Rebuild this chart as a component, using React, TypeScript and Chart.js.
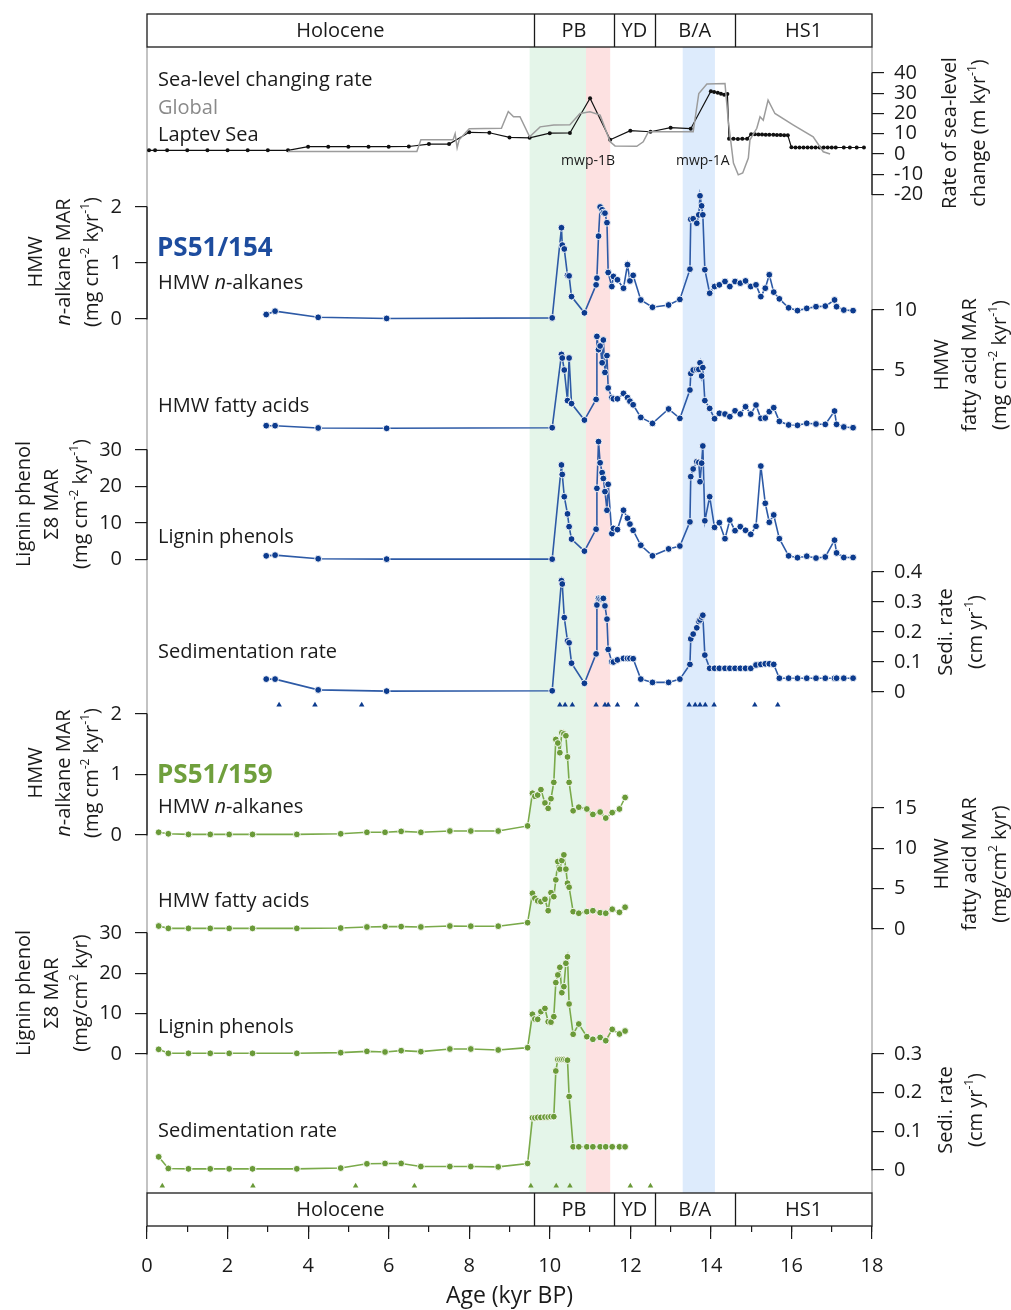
import React, { useEffect, useRef } from "react";
import { Chart, registerables } from "chart.js";

Chart.register(...registerables);

const FONT = '"Open Sans", "DejaVu Sans", Arial, sans-serif';
const INK = "#1a1a1a";

// ================= DATA =================
const epochNames = ["Holocene", "PB", "YD", "B/A", "HS1"];
const epochBounds = [0, 9.6, 11.6, 12.6, 14.6, 18];
const shadeStart = [9.5, 10.9, 13.3];
const shadeEnd = [10.9, 11.5, 14.1];
const xMajorTicks = [0, 2, 4, 6, 8, 10, 12, 14, 16, 18];
const xMinorTicks = [0, 1, 2, 3, 4, 5, 6, 7, 8, 9, 10, 11, 12, 13, 14, 15, 16, 17, 18];
const mwpNames = ["mwp-1B", "mwp-1A"];
const mwpAges = [10.95, 13.8];

// Sea-level changing rate (m/kyr)
const ageLaptev = [0.05, 0.2, 0.5, 1, 1.5, 2, 2.5, 3, 3.5, 4, 4.5, 5, 5.5, 6, 6.5, 7, 7.5, 8, 8.5, 9, 9.5, 10, 10.5, 11, 11.5, 12, 12.5, 13, 13.5,
  14.0, 14.08, 14.17, 14.25, 14.33, 14.41, 14.45, 14.56, 14.67, 14.78, 14.9,
  15.0, 15.09, 15.18, 15.27, 15.36, 15.45, 15.55, 15.64, 15.73, 15.82, 15.91,
  16.0, 16.1, 16.2, 16.3, 16.4, 16.5, 16.6, 16.7, 16.8, 16.9, 17.0, 17.1, 17.3, 17.45, 17.62, 17.8];
const rateLaptev = [1.8, 1.8, 1.8, 1.8, 1.8, 1.8, 1.8, 1.8, 1.8, 3.6, 3.6, 3.6, 3.6, 3.6, 3.7, 4.9, 4.9, 10.7, 10.5, 8.2, 8.0, 10.3, 10.4,
  27.5, 7.0, 11.5, 11.0, 13.0, 12.5,
  31.0, 30.6, 30.2, 29.8, 29.2, 29.6, 7.5, 7.5, 7.4, 7.5, 7.5,
  9.8, 9.7, 9.6, 9.6, 9.5, 9.5, 9.5, 9.4, 9.4, 9.3, 9.2,
  3.3, 3.2, 3.2, 3.2, 3.2, 3.2, 3.2, 3.2, 3.2, 3.2, 3.2, 3.2, 3.2, 3.2, 3.2, 3.2];
const ageGlobal = [3.5, 6.7, 6.8, 7.6, 7.65, 7.7, 7.75, 8.0, 8.8, 8.97, 9.1, 9.26, 9.5, 9.76, 10.1, 10.5, 10.75, 11.0, 11.25, 11.5,
  11.62, 12.16, 12.32, 12.45, 13.56, 13.7, 13.9, 14.35, 14.43, 14.56, 14.68, 14.79, 14.93, 14.97, 15.14, 15.22, 15.3, 15.42, 15.59, 16.05,
  16.54, 16.79, 16.96];
const rateGlobal = [1.2, 1.2, 7, 7, 10, 3, 7, 12.5, 12.7, 21, 18.4, 18.4, 8.5, 13.4, 14.3, 14.5, 20, 20.8, 19.2, 6,
  4, 3.8, 6, 11, 11, 29.9, 34.6, 34.8, 16.7, -4.5, -10.3, -9.4, -2, 7, 12.7, 18.4, 16.7, 26.6, 20, 14.3,
  8.5, 1.1, 0];

// PS51/154
const age154 = [2.96, 3.18, 4.25, 5.95, 10.06,
  10.29, 10.31, 10.36, 10.44, 10.48, 10.54, 10.86,
  11.15, 11.17, 11.21, 11.25, 11.30, 11.33, 11.37, 11.42, 11.45, 11.54, 11.58, 11.68, 11.83, 11.93, 11.99, 12.07,
  12.26, 12.55, 12.95, 13.23,
  13.48, 13.50, 13.56, 13.65, 13.70, 13.73, 13.77, 13.80, 13.85,
  13.97, 14.09, 14.21, 14.35, 14.47, 14.60, 14.73, 14.86, 14.99,
  15.12, 15.24, 15.35, 15.45, 15.56, 15.70,
  15.93, 16.15, 16.38, 16.61, 16.84,
  17.07, 17.12, 17.30, 17.53];
const alk154 = [0.08, 0.14, 0.03, 0.01, 0.02,
  1.63, 1.32, 1.25, 0.78, 0.77, 0.40, 0.11,
  0.61, 0.73, 1.48, 2.00, 1.95, 1.90, 1.89, 1.72, 0.83, 0.58, 0.76, 0.70, 0.55, 0.97, 0.68, 0.78,
  0.34, 0.21, 0.25, 0.35,
  0.89, 1.78, 1.79, 1.71, 1.86, 2.20, 2.02, 1.86, 0.88,
  0.46, 0.58, 0.61, 0.67, 0.58, 0.67, 0.64, 0.68, 0.58,
  0.61, 0.40, 0.55, 0.79, 0.48, 0.36,
  0.20, 0.15, 0.19, 0.22, 0.23,
  0.34, 0.22, 0.16, 0.15];
const fa154 = [0.36, 0.36, 0.17, 0.14, 0.19,
  6.3, 6.0, 5.0, 2.45, 6.0, 2.2, 0.83,
  2.55, 7.8, 6.7, 7.0, 5.6, 7.5, 4.8, 6.2, 3.5, 2.7, 2.6, 2.6, 3.05, 2.7, 2.4, 2.1,
  1.05, 0.55, 1.75, 0.97,
  3.33, 4.7, 5.0, 5.05, 5.05, 5.6, 4.5, 5.2, 2.45,
  1.8, 0.94, 1.39, 1.33, 1.11, 1.6, 1.33, 1.94, 1.33,
  2.08, 0.97, 1.0, 1.53, 1.86, 0.72,
  0.42, 0.39, 0.56, 0.5, 0.47,
  1.58, 0.47, 0.25, 0.19];
const lig154 = [1.0, 1.2, 0.2, 0.1, 0.1,
  25.9, 23.3, 17.2, 12.5, 9.0, 5.6, 2.3,
  8.3, 19.5, 32.3, 26.5, 23.8, 22.2, 18.6, 13.5, 20.6, 7.1, 8.5, 8.2, 13.5, 11.3, 9.7, 8.0,
  3.9, 1.0, 2.9, 3.7,
  10.3, 22.7, 24.8, 26.8, 26.6, 21.3, 26.4, 31.1, 10.6,
  17.2, 8.8, 10.1, 5.7, 10.8, 7.9, 9.0, 8.0, 6.9,
  9.1, 25.6, 15.4, 10.2, 12.2, 5.7,
  1.0, 0.5, 0.9, 0.4, 0.7,
  5.3, 1.8, 0.55, 0.55];
const sed154 = [0.043, 0.043, 0.007, 0.003, 0.004,
  0.371, 0.36, 0.248, 0.17, 0.164, 0.096, 0.029,
  0.127, 0.29, 0.312, 0.31, 0.31, 0.312, 0.287, 0.243, 0.142, 0.101, 0.1, 0.107, 0.112, 0.112, 0.112, 0.111,
  0.043, 0.032, 0.032, 0.043,
  0.092, 0.177, 0.193, 0.214, 0.235, 0.24, 0.25, 0.256, 0.123,
  0.079, 0.079, 0.079, 0.079, 0.079, 0.079, 0.079, 0.079, 0.079,
  0.09, 0.092, 0.094, 0.094, 0.092, 0.046,
  0.046, 0.046, 0.046, 0.046, 0.046,
  0.046, 0.046, 0.046, 0.046];
const ctrl154 = [3.28, 4.17, 5.33, 10.25, 10.38, 10.56, 11.15, 11.37, 11.45, 11.68, 12.16, 13.46, 13.61, 13.73, 13.86, 14.08, 15.09, 15.66];

// PS51/159
const age159 = [0.29, 0.53, 1.03, 1.57, 2.04, 2.62, 3.72, 4.81, 5.46, 5.91, 6.31, 6.8, 7.52, 8.04, 8.72,
  9.45,
  9.57, 9.63, 9.7, 9.78, 9.88, 9.96, 10.03, 10.1,
  10.15, 10.2, 10.25, 10.3, 10.35, 10.4, 10.44, 10.48,
  10.58, 10.72, 10.92, 11.07, 11.25, 11.39, 11.55, 11.73, 11.87];
const alk159 = [0.045, 0.02, 0.01, 0.01, 0.01, 0.01, 0.01, 0.02, 0.045, 0.045, 0.06, 0.045, 0.066, 0.066, 0.066,
  0.15,
  0.69, 0.64, 0.66, 0.75, 0.53, 0.44, 0.60, 0.87,
  1.58, 1.52, 1.36, 1.69, 1.67, 1.64, 1.29, 0.87,
  0.40, 0.46, 0.43, 0.34, 0.38, 0.28, 0.37, 0.43, 0.62];
const fa159 = [0.37, 0.08, 0.08, 0.08, 0.08, 0.08, 0.08, 0.12, 0.25, 0.3, 0.3, 0.25, 0.37, 0.35, 0.35,
  0.79,
  4.43, 3.81, 3.48, 3.39, 3.69, 2.27, 4.51, 4.01,
  6.09, 8.36, 7.42, 8.49, 9.19, 7.42, 5.68, 5.18,
  2.15, 1.95, 2.15, 2.27, 2.02, 1.95, 2.45, 2.07, 2.7];
const lig159 = [1.16, 0.17, 0.17, 0.17, 0.17, 0.17, 0.17, 0.33, 0.66, 0.5, 0.83, 0.58, 1.24, 1.24, 1.0,
  1.57,
  9.85, 8.68, 8.6, 10.5, 11.3, 8.0, 7.9, 9.26,
  17.7, 19.6, 21.5, 15.2, 16.7, 22.5, 24.1, 12.4,
  4.9, 7.44, 4.3, 3.65, 4.1, 3.3, 6.1, 4.96, 5.7];
const sed159 = [0.034, 0.004, 0.003, 0.003, 0.003, 0.003, 0.003, 0.005, 0.016, 0.017, 0.017, 0.009, 0.009, 0.009, 0.008,
  0.017,
  0.135, 0.135, 0.136, 0.136, 0.137, 0.137, 0.138, 0.138,
  0.256, 0.286, 0.286, 0.286, 0.286, 0.285, 0.284, 0.19,
  0.06, 0.06, 0.06, 0.06, 0.06, 0.06, 0.06, 0.06, 0.06];
const ctrl159 = [0.38, 2.63, 5.18, 6.64, 9.53, 10.16, 10.5, 12.0, 12.5];

// axis ticks
const ticksSea = [-20, -10, 0, 10, 20, 30, 40];
const ticksAlk = [0, 1, 2];
const ticksFA154 = [0, 5, 10];
const ticksLig = [0, 10, 20, 30];
const ticksSed154 = [0, 0.1, 0.2, 0.3, 0.4];
const ticksFA159 = [0, 5, 10, 15];
const ticksSed159 = [0, 0.1, 0.2, 0.3];

// ================= LAYOUT / STYLE =================
const CANVAS_W = 1011;
const CANVAS_H = 1310;
const AREA = { left: 147, right: 872, top: 14, bottom: 1226 };
const BOX_H = 33;
const CTRL_Y154 = -0.043; // age-control marker row below sedimentation-rate panels
const CTRL_Y159 = -0.041;
const shadeColors = ["#e4f5e9", "#fde1e1", "#ddebfc"];
const BLUE_LINE = "#2d5aa6";
const BLUE_PT = "#0c3b8e";
const BLUE_TXT = "#1d4c9e";
const GREEN_LINE = "#7aaa4a";
const GREEN_PT = "#6a9a38";
const GREEN_TXT = "#6f9f3c";

type Seg = { t: string; it?: boolean; sup?: boolean };
const s = (t: string): Seg => ({ t });
const it = (t: string): Seg => ({ t, it: true });
const sp = (t: string): Seg => ({ t, sup: true });
const unitsCm = [s("(mg cm"), sp("-2"), s(" kyr"), sp("-1"), s(")")];
const unitsSlash = [s("(mg/cm"), sp("2"), s(" kyr)")];

type Panel = { id: string; side: "left" | "right"; ticks: number[]; firstY: number; lastY: number; titleX: number[]; titleY: number; title: Seg[][] };
const panels: Panel[] = [
  { id: "ySea", side: "right", ticks: ticksSea, firstY: 194.5, lastY: 73, titleX: [950, 979], titleY: 133, title: [[s("Rate of sea-level")], [s("change (m kyr"), sp("-1"), s(")")]] },
  { id: "yAlk154", side: "left", ticks: ticksAlk, firstY: 319, lastY: 207, titleX: [36, 64, 92], titleY: 262, title: [[s("HMW")], [it("n"), s("-alkane MAR")], unitsCm] },
  { id: "yFA154", side: "right", ticks: ticksFA154, firstY: 430, lastY: 310, titleX: [942, 970, 1000], titleY: 365, title: [[s("HMW")], [s("fatty acid MAR")], unitsCm] },
  { id: "yLig154", side: "left", ticks: ticksLig, firstY: 559.5, lastY: 450, titleX: [24, 52, 81], titleY: 504, title: [[s("Lignin phenol")], [s("Σ8 MAR")], unitsCm] },
  { id: "ySed154", side: "right", ticks: ticksSed154, firstY: 692, lastY: 572, titleX: [946, 976], titleY: 632, title: [[s("Sedi. rate")], [s("(cm yr"), sp("-1"), s(")")]] },
  { id: "yAlk159", side: "left", ticks: ticksAlk, firstY: 835, lastY: 714, titleX: [36, 64, 92], titleY: 773, title: [[s("HMW")], [it("n"), s("-alkane MAR")], unitsCm] },
  { id: "yFA159", side: "right", ticks: ticksFA159, firstY: 929, lastY: 808, titleX: [942, 970, 1000], titleY: 864, title: [[s("HMW")], [s("fatty acid MAR")], unitsSlash] },
  { id: "yLig159", side: "left", ticks: ticksLig, firstY: 1054, lastY: 933, titleX: [24, 52, 81], titleY: 993, title: [[s("Lignin phenol")], [s("Σ8 MAR")], unitsSlash] },
  { id: "ySed159", side: "right", ticks: ticksSed159, firstY: 1170, lastY: 1054, titleX: [946, 976], titleY: 1110, title: [[s("Sedi. rate")], [s("(cm yr"), sp("-1"), s(")")]] },
];

type TextLabel = { segs: Seg[]; x: number; y: number; color: string; size: number; bold?: boolean };
const textLabels: TextLabel[] = [
  { segs: [s("Sea-level changing rate")], x: 158, y: 86, color: INK, size: 20 },
  { segs: [s("Global")], x: 158, y: 114, color: "#8a8a8a", size: 20 },
  { segs: [s("Laptev Sea")], x: 158, y: 141, color: INK, size: 20 },
  { segs: [s("PS51/154")], x: 157, y: 256, color: BLUE_TXT, size: 26, bold: true },
  { segs: [s("HMW "), it("n"), s("-alkanes")], x: 158, y: 289, color: INK, size: 20 },
  { segs: [s("HMW fatty acids")], x: 158, y: 412, color: INK, size: 20 },
  { segs: [s("Lignin phenols")], x: 158, y: 543, color: INK, size: 20 },
  { segs: [s("Sedimentation rate")], x: 158, y: 658, color: INK, size: 20 },
  { segs: [s("PS51/159")], x: 157, y: 783, color: GREEN_TXT, size: 26, bold: true },
  { segs: [s("HMW "), it("n"), s("-alkanes")], x: 158, y: 813, color: INK, size: 20 },
  { segs: [s("HMW fatty acids")], x: 158, y: 907, color: INK, size: 20 },
  { segs: [s("Lignin phenols")], x: 158, y: 1033, color: INK, size: 20 },
  { segs: [s("Sedimentation rate")], x: 158, y: 1137, color: INK, size: 20 },
];

// ================= HELPERS =================
function fontFor(seg: Seg, size: number, bold: boolean) {
  const sz = seg.sup ? Math.round(size * 0.62) : size;
  return `${seg.it ? "italic " : ""}${bold ? "bold " : ""}${sz}px ${FONT}`;
}

function drawRich(ctx: CanvasRenderingContext2D, segs: Seg[], x: number, y: number, size: number, color: string,
  opts: { align?: "left" | "center"; rotate?: boolean; bold?: boolean; baseline?: CanvasTextBaseline }) {
  ctx.save();
  ctx.translate(x, y);
  if (opts.rotate) ctx.rotate(-Math.PI / 2);
  ctx.fillStyle = color;
  const baseline = opts.baseline ?? "alphabetic";
  ctx.textBaseline = baseline;
  ctx.textAlign = "left";
  let total = 0;
  const widths = segs.map((sg) => {
    ctx.font = fontFor(sg, size, !!opts.bold);
    const w = ctx.measureText(sg.t).width;
    total += w;
    return w;
  });
  let cx = opts.align === "center" ? -total / 2 : 0;
  const raise = baseline === "middle" ? -size * 0.3 : -size * 0.4;
  segs.forEach((sg, i) => {
    ctx.font = fontFor(sg, size, !!opts.bold);
    ctx.fillText(sg.t, cx, sg.sup ? raise : 0);
    cx += widths[i];
  });
  ctx.restore();
}

function axisRange(p: Panel) {
  const t0 = p.ticks[0];
  const t1 = p.ticks[p.ticks.length - 1];
  const k = (p.firstY - p.lastY) / (t1 - t0);
  return { min: t0 + (p.firstY - AREA.bottom) / k, max: t0 + (p.firstY - AREA.top) / k };
}

const zip = (xs: number[], ys: number[]) => xs.map((x, i) => ({ x, y: ys[i] }));

function series(xs: number[], ys: number[], yAxisID: string, line: string, pt: string) {
  return {
    data: zip(xs, ys),
    yAxisID,
    xAxisID: "x",
    borderColor: line,
    borderWidth: 1.6,
    pointRadius: 3.4,
    pointBackgroundColor: pt,
    pointBorderColor: "#ffffff",
    pointBorderWidth: 0.9,
    tension: 0,
  };
}

function markers(ages: number[], level: number, yAxisID: string, color: string) {
  return {
    data: ages.map((a) => ({ x: a, y: level })),
    yAxisID,
    xAxisID: "x",
    showLine: false,
    pointStyle: "triangle",
    pointRadius: 3.2,
    pointBackgroundColor: color,
    pointBorderColor: color,
    pointBorderWidth: 0,
  };
}

const decorPlugin = {
  id: "decor",
  afterLayout(chart: any) {
    // widen the label area of the zero-width y axes so their tick labels are not clipped
    panels.forEach((p) => {
      const sc = chart.scales[p.id];
      if (!sc) return;
      if (p.side === "left") {
        sc.left = 0;
      } else {
        sc.right = CANVAS_W;
      }
    });
  },
  beforeDraw(chart: any) {
    const { ctx, chartArea: a, scales } = chart;
    const xs = scales.x;
    ctx.save();
    for (let i = 0; i < shadeStart.length; i++) {
      const x0 = xs.getPixelForValue(shadeStart[i]);
      const x1 = xs.getPixelForValue(shadeEnd[i]);
      ctx.fillStyle = shadeColors[i];
      ctx.fillRect(x0, a.top + BOX_H, x1 - x0, a.bottom - a.top - 2 * BOX_H);
    }
    ctx.strokeStyle = "#b0b0b0";
    ctx.lineWidth = 1.5;
    ctx.beginPath();
    ctx.moveTo(a.left, a.top + BOX_H);
    ctx.lineTo(a.left, a.bottom - BOX_H);
    ctx.moveTo(a.right, a.top + BOX_H);
    ctx.lineTo(a.right, a.bottom - BOX_H);
    ctx.stroke();
    ctx.restore();
  },
  afterDraw(chart: any) {
    const { ctx, chartArea: a, scales } = chart;
    const xs = scales.x;
    ctx.save();
    // epoch boxes
    const drawBox = (yTop: number) => {
      ctx.fillStyle = "#ffffff";
      ctx.fillRect(a.left, yTop, a.right - a.left, BOX_H);
      ctx.strokeStyle = INK;
      ctx.lineWidth = 1.3;
      ctx.strokeRect(a.left, yTop, a.right - a.left, BOX_H);
      ctx.beginPath();
      for (let i = 1; i < epochBounds.length - 1; i++) {
        const px = Math.round(xs.getPixelForValue(epochBounds[i])) + 0.5;
        ctx.moveTo(px, yTop);
        ctx.lineTo(px, yTop + BOX_H);
      }
      ctx.stroke();
      ctx.font = `20px ${FONT}`;
      ctx.fillStyle = INK;
      ctx.textAlign = "center";
      ctx.textBaseline = "middle";
      for (let i = 0; i < epochNames.length; i++) {
        const cx = (xs.getPixelForValue(epochBounds[i]) + xs.getPixelForValue(epochBounds[i + 1])) / 2;
        ctx.fillText(epochNames[i], cx, yTop + BOX_H / 2 + 1);
      }
    };
    drawBox(a.top);
    drawBox(a.bottom - BOX_H);

    // axis lines + titles
    panels.forEach((p) => {
      const sc = scales[p.id];
      const px = p.side === "left" ? a.left : a.right;
      const y0 = sc.getPixelForValue(p.ticks[0]);
      const y1 = sc.getPixelForValue(p.ticks[p.ticks.length - 1]);
      ctx.strokeStyle = INK;
      ctx.lineWidth = 1.3;
      ctx.beginPath();
      ctx.moveTo(px, y0 + 0.5);
      ctx.lineTo(px, y1 - 0.5);
      ctx.stroke();
      p.title.forEach((line, i) =>
        drawRich(ctx, line, p.titleX[i], p.titleY, 20, INK, { align: "center", rotate: true, baseline: "middle" })
      );
    });

    // in-plot labels
    textLabels.forEach((l) => drawRich(ctx, l.segs, l.x, l.y, l.size, l.color, { bold: l.bold }));
    mwpNames.forEach((n, i) =>
      drawRich(ctx, [s(n)], xs.getPixelForValue(mwpAges[i]), 165, 14, INK, { align: "center" })
    );
    ctx.restore();
  },
};

export default function App() {
  const ref = useRef<HTMLCanvasElement>(null);
  useEffect(() => {
    if (!ref.current) return;
    const yScales: Record<string, any> = {};
    panels.forEach((p) => {
      const r = axisRange(p);
      yScales[p.id] = {
        type: "linear",
        position: p.side,
        min: r.min,
        max: r.max,
        bounds: "data",
        afterFit: (sc: any) => {
          sc.width = 0;
          sc.paddingTop = 0;
          sc.paddingBottom = 0;
        },
        afterBuildTicks: (sc: any) => {
          sc.ticks = p.ticks.map((v) => ({ value: v }));
        },
        ticks: {
          autoSkip: false,
          padding: p.side === "left" ? 13 : 10,
          color: INK,
          font: { family: FONT, size: 20 },
          callback: (v: any) => String(v),
        },
        grid: { drawOnChartArea: false, drawTicks: true, tickLength: 12, color: INK, lineWidth: 1.2 },
        border: { display: false },
      };
    });

    const chart = new Chart(ref.current, {
      type: "line",
      data: {
        datasets: [
          { data: zip(ageGlobal, rateGlobal), yAxisID: "ySea", xAxisID: "x", borderColor: "#9c9c9c", borderWidth: 1.5, pointRadius: 0, tension: 0 },
          { data: zip(ageLaptev, rateLaptev), yAxisID: "ySea", xAxisID: "x", borderColor: "#111111", borderWidth: 1.2, pointRadius: 2, pointBackgroundColor: "#111111", pointBorderWidth: 0, tension: 0 },
          series(age154, alk154, "yAlk154", BLUE_LINE, BLUE_PT),
          series(age154, fa154, "yFA154", BLUE_LINE, BLUE_PT),
          series(age154, lig154, "yLig154", BLUE_LINE, BLUE_PT),
          series(age154, sed154, "ySed154", BLUE_LINE, BLUE_PT),
          series(age159, alk159, "yAlk159", GREEN_LINE, GREEN_PT),
          series(age159, fa159, "yFA159", GREEN_LINE, GREEN_PT),
          series(age159, lig159, "yLig159", GREEN_LINE, GREEN_PT),
          series(age159, sed159, "ySed159", GREEN_LINE, GREEN_PT),
          markers(ctrl154, CTRL_Y154, "ySed154", BLUE_PT),
          markers(ctrl159, CTRL_Y159, "ySed159", GREEN_PT),
        ] as any,
      },
      options: {
        animation: false,
        responsive: false,
        maintainAspectRatio: false,
        events: [],
        layout: { padding: { left: AREA.left, right: CANVAS_W - AREA.right, top: AREA.top, bottom: 0 } },
        plugins: { legend: { display: false }, tooltip: { enabled: false } },
        scales: {
          x: {
            type: "linear",
            position: "bottom",
            min: 0,
            max: 18,
            weight: 0,
            afterFit: (sc: any) => {
              sc.height = CANVAS_H - AREA.bottom;
              sc.paddingLeft = 0;
              sc.paddingRight = 0;
            },
            afterBuildTicks: (sc: any) => {
              sc.ticks = xMajorTicks.map((v) => ({ value: v }));
            },
            ticks: { autoSkip: false, maxRotation: 0, padding: 15, color: INK, font: { family: FONT, size: 20 }, callback: (v: any) => String(v) },
            grid: { drawOnChartArea: false, drawTicks: true, tickLength: 13, color: INK, lineWidth: 1.2 },
            border: { display: false },
            title: { display: true, text: "Age (kyr BP)", color: INK, font: { family: FONT, size: 23 }, padding: 0 },
          },
          xMinor: {
            type: "linear",
            position: "bottom",
            min: 0,
            max: 18,
            weight: -1,
            afterFit: (sc: any) => {
              sc.height = 0;
              sc.paddingLeft = 0;
              sc.paddingRight = 0;
            },
            afterBuildTicks: (sc: any) => {
              sc.ticks = xMinorTicks.map((v) => ({ value: v }));
            },
            ticks: { display: false },
            grid: { drawOnChartArea: false, drawTicks: true, tickLength: 6, color: INK, lineWidth: 1.2 },
            border: { display: false },
          },
          ...yScales,
        },
      } as any,
      plugins: [decorPlugin as any],
    });
    return () => chart.destroy();
  }, []);

  return (
    <div style={{ position: "absolute", left: 0, top: 0, width: CANVAS_W, height: CANVAS_H, background: "#ffffff" }}>
      <canvas ref={ref} width={CANVAS_W} height={CANVAS_H} style={{ display: "block", width: CANVAS_W, height: CANVAS_H }} />
    </div>
  );
}
